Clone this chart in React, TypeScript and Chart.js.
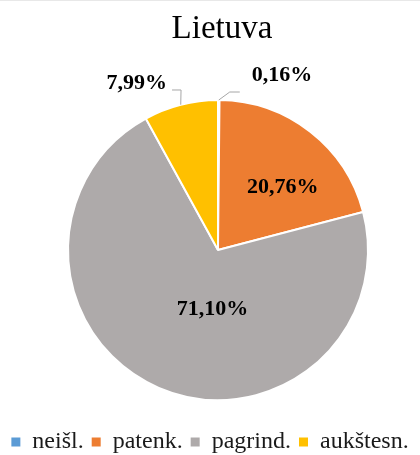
import React, { useEffect, useRef } from "react";
import { Chart, registerables } from "chart.js";

Chart.register(...registerables);

const titleText = "Lietuva";
const categories = ["neišl.", "patenk.", "pagrind.", "aukštesn."];
const values = [0.16, 20.76, 71.1, 7.99];
const valueLabels = ["0,16%", "20,76%", "71,10%", "7,99%"];
const colors = ["#5B9BD5", "#ED7D31", "#AEAAAA", "#FFC000"];

type Placement =
  | { mode: "inside"; angle: number; r: number }
  | { mode: "outside"; elbow: [number, number]; end: [number, number]; text: [number, number]; align: "left" | "right" };

const labelPlacement: Placement[] = [
  { mode: "outside", elbow: [11, -8], end: [10, 0], text: [12, -17], align: "left" },
  { mode: "inside", angle: 8, r: 0.6 },
  { mode: "inside", angle: -18, r: 0.4 },
  { mode: "outside", elbow: [0.3, -14.7], end: [-9, 0], text: [-5, -7], align: "right" },
];

const FONT = "'Liberation Serif', 'Times New Roman', serif";

const areaPlugin = {
  id: "fixedArea",
  afterLayout(chart: any) {
    chart.chartArea = { left: 67, top: 99, right: 369, bottom: 401, width: 302, height: 302 };
    if (chart.titleBlock) chart.titleBlock.left += 24;
  },
};

const labelPlugin = {
  id: "sliceLabels",
  afterDatasetsDraw(chart: any) {
    const ctx = chart.ctx;
    const meta = chart.getDatasetMeta(0);
    ctx.save();
    ctx.font = `bold 22px ${FONT}`;
    ctx.fillStyle = "#000";
    ctx.textBaseline = "middle";
    meta.data.forEach((arc: any, i: number) => {
      const p = arc.getProps(["x", "y", "startAngle", "endAngle", "outerRadius"], true);
      const mid = (p.startAngle + p.endAngle) / 2;
      const pl = labelPlacement[i];
      if (pl.mode === "inside") {
        const a = mid + (pl.angle * Math.PI) / 180;
        const d = p.outerRadius * pl.r;
        ctx.textAlign = "center";
        ctx.fillText(valueLabels[i], p.x + d * Math.cos(a), p.y + d * Math.sin(a));
      } else {
        const ax = p.x + p.outerRadius * Math.cos(mid);
        const ay = p.y + p.outerRadius * Math.sin(mid);
        const ex = ax + pl.elbow[0];
        const ey = ay + pl.elbow[1];
        const fx = ex + pl.end[0];
        const fy = ey + pl.end[1];
        ctx.beginPath();
        ctx.strokeStyle = "#A6A6A6";
        ctx.lineWidth = 1;
        ctx.moveTo(ax, ay);
        ctx.lineTo(ex, ey);
        ctx.lineTo(fx, fy);
        ctx.stroke();
        ctx.textAlign = pl.align;
        ctx.fillText(valueLabels[i], fx + pl.text[0], fy + pl.text[1]);
      }
    });
    ctx.restore();
  },
};

export default function App() {
  const ref = useRef<HTMLCanvasElement | null>(null);
  useEffect(() => {
    if (!ref.current) return;
    const defaultGen = (Chart as any).overrides.pie.plugins.legend.labels.generateLabels;
    const chart = new Chart(ref.current, {
      type: "pie",
      data: {
        labels: categories,
        datasets: [
          {
            data: values,
            backgroundColor: colors,
            borderColor: "#ffffff",
            borderWidth: 2,
            hoverOffset: 0,
            clip: false as any,
          } as any,
        ],
      },
      options: {
        responsive: false,
        animation: false,
        events: [],
        plugins: {
          title: {
            display: true,
            text: titleText,
            color: "#000",
            font: { family: FONT, size: 33, weight: "normal" as any },
            padding: { top: 10, bottom: 10 },
          },
          legend: {
            display: true,
            position: "bottom",
            labels: {
              color: "#1a1a1a",
              font: { family: FONT, size: 24 },
              boxWidth: 9,
              boxHeight: 9,
              padding: 8,
              generateLabels: (c: any) =>
                defaultGen(c).map((l: any) => ({ ...l, lineWidth: 0, strokeStyle: "rgba(0,0,0,0)" })),
            },
          },
          tooltip: { enabled: false },
        },
      },
      plugins: [areaPlugin, labelPlugin],
    });
    return () => chart.destroy();
  }, []);
  return (
    <div
      style={{
        position: "fixed",
        left: 0,
        top: 0,
        width: 420,
        height: 455,
        overflow: "hidden",
        background: "#fff",
      }}
    >
      <div style={{ position: "absolute", left: 0, top: 0, width: 420, height: 1, background: "#E8E8E8", zIndex: 1 }} />
      <canvas ref={ref} width={420} height={464} style={{ display: "block", width: 420, height: 464 }} />
    </div>
  );
}
